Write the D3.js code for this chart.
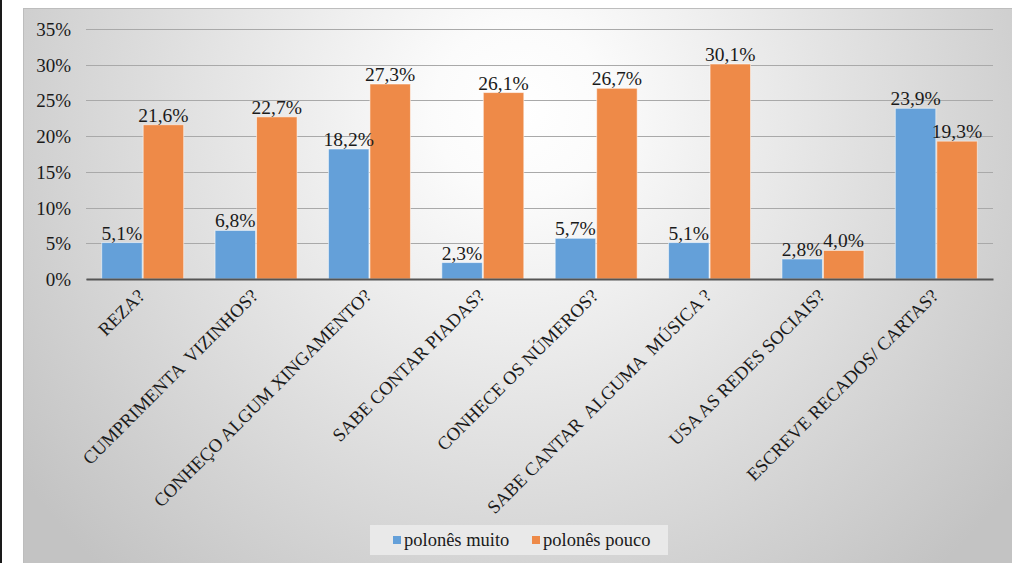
<!DOCTYPE html>
<html>
<head>
<meta charset="utf-8">
<script src="https://cdn.jsdelivr.net/npm/d3@7"></script>
<style>
  html, body { margin: 0; padding: 0; background: #ffffff; }
  svg { display: block; }
</style>
</head>
<body>
<svg id="chart" width="1012" height="563"></svg>
<script>
// Categories (survey questions) and the two series, in percent
const categories = [
  "REZA?",
  "CUMPRIMENTA  VIZINHOS?",
  "CONHEÇO ALGUM XINGAMENTO?",
  "SABE CONTAR PIADAS?",
  "CONHECE OS NÚMEROS?",
  "SABE CANTAR  ALGUMA  MÚSICA ?",
  "USA AS REDES SOCIAIS?",
  "ESCREVE RECADOS/ CARTAS?"
];
const seriesNames = ["polonês muito", "polonês pouco"];
const muito = [5.1, 6.8, 18.2, 2.3, 5.7, 5.1, 2.8, 23.9];
const pouco = [21.6, 22.7, 27.3, 26.1, 26.7, 30.1, 4.0, 19.3];
const yTicks = [0, 5, 10, 15, 20, 25, 30, 35];
const colors = ["#64a0d9", "#ee8a48"];

const FONT = '"Liberation Serif"';
const INK = "#1a1a1a";

const svg = d3.select("#chart");
const W = 1012, H = 563;

// Chart frame with a soft radial background
const defs = svg.append("defs");
const grad = defs.append("radialGradient")
  .attr("id", "bg").attr("gradientUnits", "userSpaceOnUse")
  .attr("cx", 520).attr("cy", 110).attr("r", 620);
grad.append("stop").attr("offset", "0").attr("stop-color", "#ffffff");
grad.append("stop").attr("offset", "0.14").attr("stop-color", "#fbfbfb");
grad.append("stop").attr("offset", "1").attr("stop-color", "#c3c3c3");

svg.append("rect").attr("x", 0).attr("y", 0).attr("width", 2).attr("height", H).attr("fill", "#1a1a1a");
svg.append("rect").attr("x", 23.5).attr("y", 8.5).attr("width", W - 23).attr("height", H - 8)
  .attr("fill", "url(#bg)").attr("stroke", "#bdbdbd").attr("stroke-width", 1);

// Plot area
const plotLeft = 86, plotRight = 993, plotTop = 29, plotBottom = 279;

const x0 = d3.scaleBand().domain(categories).range([plotLeft, plotRight])
  .paddingInner(0.268).paddingOuter(0.134);
const x1 = d3.scaleBand().domain(seriesNames).range([0, x0.bandwidth()]).padding(0);
const y = d3.scaleLinear().domain([0, 35]).range([plotBottom, plotTop]);

// Gridlines
const grid = svg.append("g").attr("transform", `translate(${plotLeft},0)`)
  .call(d3.axisLeft(y).tickValues(yTicks).tickSize(-(plotRight - plotLeft)).tickFormat(""));
grid.select(".domain").remove();
grid.selectAll(".tick line").attr("stroke", "#a9a9a9").attr("stroke-width", 1)
  .attr("shape-rendering", "crispEdges");

// Y axis labels
const yAxis = svg.append("g").attr("transform", `translate(${plotLeft - 15},0)`)
  .call(d3.axisLeft(y).tickValues(yTicks).tickSize(0).tickPadding(0).tickFormat(d => d + "%"));
yAxis.attr("font-family", null).attr("font-size", null);
yAxis.select(".domain").remove();
yAxis.selectAll("text")
  .style("font-family", FONT).style("font-size", "19px")
  .attr("fill", INK).attr("dy", "0.34em");

// Bars
const rows = categories.map((c, i) => ({ cat: c, vals: [muito[i], pouco[i]] }));
const groups = svg.append("g").selectAll("g").data(rows).join("g")
  .attr("transform", d => `translate(${x0(d.cat)},0)`);

groups.selectAll("rect").data(d => d.vals.map((v, k) => ({ v, k, s: seriesNames[k] })))
  .join("rect")
  .attr("x", d => x1(d.s) + 0.5)
  .attr("y", d => y(d.v))
  .attr("width", x1.bandwidth() - 1)
  .attr("height", d => y(0) - y(d.v))
  .attr("fill", d => colors[d.k])
  .attr("stroke", "rgba(255,255,255,0.55)")
  .attr("stroke-width", 1);

// Value labels
const fmt = v => d3.format(".1f")(v).replace(".", ",") + "%";
groups.selectAll("text.val").data(d => d.vals.map((v, k) => ({ v, k, s: seriesNames[k] })))
  .join("text").attr("class", "val")
  .attr("x", d => x1(d.s) + x1.bandwidth() / 2)
  .attr("y", d => y(d.v) - 3)
  .attr("text-anchor", "middle")
  .style("font-family", FONT).style("font-size", "19.5px")
  .attr("fill", INK)
  .text(d => fmt(d.v));

// X axis
const xAxis = svg.append("g").attr("transform", `translate(0,${plotBottom})`)
  .call(d3.axisBottom(x0).tickSize(0).tickPadding(0));
xAxis.attr("font-family", null).attr("font-size", null);
xAxis.select(".domain").attr("stroke", "#555555").attr("stroke-width", 2.2);
xAxis.selectAll("text")
  .style("font-family", FONT).style("font-size", "18.5px")
  .attr("fill", INK)
  .attr("text-anchor", "end")
  .attr("dy", 0)
  .attr("transform", "translate(3,18) rotate(-45)")
  .style("white-space", "pre");

// Legend
const lg = svg.append("g");
lg.append("rect").attr("x", 370).attr("y", 525).attr("width", 298).attr("height", 30)
  .attr("fill", "#e9e9e9");
const items = lg.selectAll("g.item").data(seriesNames).join("g").attr("class", "item")
  .attr("transform", (d, i) => `translate(${i === 0 ? 393 : 532},0)`);
items.append("rect").attr("x", 0).attr("y", 536).attr("width", 8).attr("height", 8)
  .attr("fill", (d, i) => colors[i]);
items.append("text").attr("x", 11).attr("y", 546)
  .style("font-family", FONT).style("font-size", "18.5px")
  .attr("fill", INK)
  .text(d => d);
</script>
</body>
</html>
